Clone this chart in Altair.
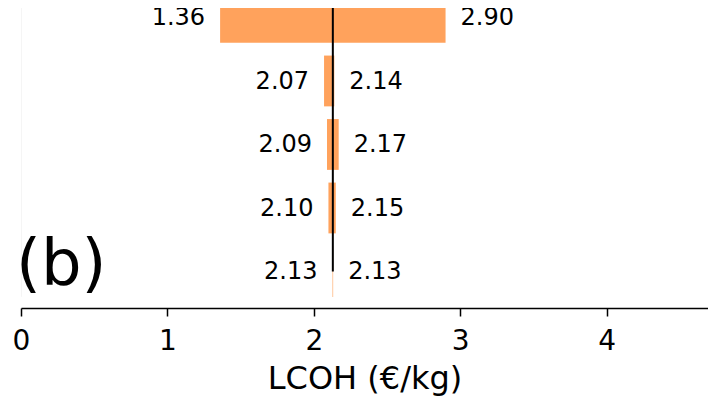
import altair as alt
import pandas as pd

# ---- data ----
rows = [4, 3, 2, 1, 0]                      # top to bottom
low_vals = [1.36, 2.07, 2.09, 2.10, 2.128]
high_vals = [2.90, 2.14, 2.17, 2.15, 2.132]
base_value = 2.13
x_ticks = [0, 1, 2, 3, 4]
panel_label = ["(b)"]
x_title = "LCOH (€/kg)"

FONT = "DejaVu Sans"
ORANGE = "#FFA25C"
XMAX = 4.6926
YMIN, YMAX = -0.575, 4.149
HALF = 0.4

df = pd.DataFrame({"row": rows, "low": low_vals, "high": high_vals})
df["y0"] = df["row"] - HALF
df["y1"] = df["row"] + HALF

xs = alt.Scale(domain=[0, XMAX], nice=False, zero=False)
ys = alt.Scale(domain=[YMIN, YMAX], nice=False, zero=False)
ax = alt.Axis(values=x_ticks, title=x_title, grid=False, format="d",
              labelFlush=False, labelOverlap=False)


def X(field):
    return alt.X(field, type="quantitative", scale=xs, axis=ax)


def Y(field):
    return alt.Y(field, type="quantitative", scale=ys, axis=None)


bars = alt.Chart(df).mark_bar(color=ORANGE, clip=True).encode(
    x=X("low"), x2="high", y=Y("y0"), y2="y1"
)

left_txt = alt.Chart(df).mark_text(
    align="right", baseline="middle", dx=-15, dy=1, fontSize=24, font=FONT, color="black"
).encode(x=X("low"), y=Y("row"), text=alt.Text("low:Q", format=".2f"))

right_txt = alt.Chart(df).mark_text(
    align="left", baseline="middle", dx=15, dy=1, fontSize=24, font=FONT, color="black"
).encode(x=X("high"), y=Y("row"), text=alt.Text("high:Q", format=".2f"))

rule_df = pd.DataFrame({"x": [base_value], "ya": [0.0], "yb": [YMAX + 1]})
rule = alt.Chart(rule_df).mark_rule(color="black", strokeWidth=2, clip=True).encode(
    x=X("x"), y=Y("ya"), y2="yb"
)

spine_df = pd.DataFrame({"x": [0.0], "ya": [-HALF], "yb": [YMAX + 1]})
spine = alt.Chart(spine_df).mark_rule(color="#ececec", strokeWidth=1, clip=True).encode(
    x=X("x"), y=Y("ya"), y2="yb"
)

lab_df = pd.DataFrame({"x": [0.0], "y": [-0.205], "t": panel_label})
label = alt.Chart(lab_df).mark_text(
    align="left", baseline="alphabetic", dx=-5, fontSize=64, font=FONT, color="black"
).encode(x=X("x"), y=Y("y"), text="t:N")

chart = (
    alt.layer(spine, bars, rule, left_txt, right_txt, label)
    .properties(
        width=687,
        height=300,
        autosize=alt.AutoSizeParams(type="none"),
        padding={"left": 13, "top": 0, "right": 0, "bottom": 89},
    )
    .configure_view(stroke=None)
    .configure_axis(
        domainColor="black",
        domainWidth=1.5,
        tickColor="black",
        tickWidth=1.5,
        tickSize=8,
        labelFont=FONT,
        labelFontSize=28,
        labelColor="black",
        labelPadding=11,
        titleFont=FONT,
        titleFontSize=32,
        titleFontWeight="normal",
        titleColor="black",
        titlePadding=8,
    )
)

chart.save("out.html", embed_options={"renderer": "svg", "actions": False})
